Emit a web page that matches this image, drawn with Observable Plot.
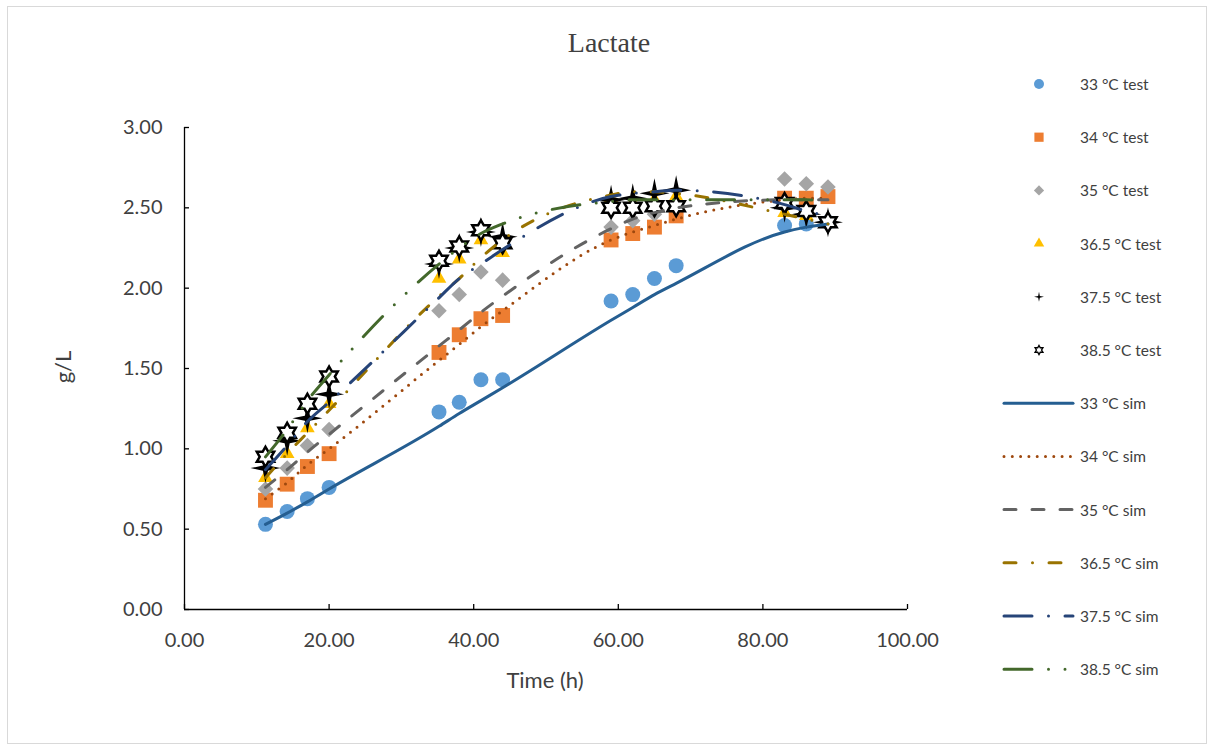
<!DOCTYPE html>
<html>
<head>
<meta charset="utf-8">
<script src="https://cdn.jsdelivr.net/npm/d3@7"></script>
<script src="https://cdn.jsdelivr.net/npm/@observablehq/plot@0.6"></script>
<style>
  html, body { margin: 0; padding: 0; background: #fff; }
  #wrap { position: relative; width: 1214px; height: 751px; overflow: hidden; }
  #wrap > svg { position: absolute; left: 0; top: 0; }
  .border { position: absolute; left: 7px; top: 6px; width: 1200px; height: 738px; border: 1px solid #d9d9d9; box-sizing: border-box; pointer-events: none; }
  .title { position: absolute; left: 0; width: 1218px; top: 27px; text-align: center; font-family: "Liberation Serif", "DejaVu Serif", serif; font-size: 28px; color: #404040; }
  .xlab { position: absolute; left: 445px; width: 200px; top: 666px; text-align: center; font-family: Lato, sans-serif; font-size: 22px; color: #404040; }
  .ylab { position: absolute; left: 62px; top: 367px; transform: translate(-50%, -50%) rotate(-90deg); font-family: Lato, sans-serif; font-size: 22px; color: #404040; white-space: nowrap; }
</style>
</head>
<body>
<div id="wrap"></div>
<script>
// ---- data ----
const times = [11.2, 14.2, 17, 20, 35.2, 38, 41, 44, 59, 62, 65, 68, 83, 86, 89];
const temps = ["33", "34", "35", "36.5", "37.5", "38.5"];

const test33  = [0.53, 0.61, 0.69, 0.76, 1.23, 1.29, 1.43, 1.43, 1.92, 1.96, 2.06, 2.14, 2.39, 2.40, 2.41];
const test34  = [0.68, 0.78, 0.89, 0.97, 1.60, 1.71, 1.81, 1.83, 2.30, 2.34, 2.38, 2.45, 2.56, 2.56, 2.57];
const test35  = [0.75, 0.88, 1.02, 1.12, 1.86, 1.96, 2.10, 2.05, 2.38, 2.42, 2.46, 2.50, 2.68, 2.65, 2.63];
const test365 = [0.82, 0.97, 1.13, 1.28, 2.06, 2.18, 2.30, 2.22, 2.56, 2.53, 2.55, 2.57, 2.47, 2.45, 2.42];
const test375 = [0.88, 1.05, 1.19, 1.34, 2.15, 2.25, 2.35, 2.32, 2.55, 2.56, 2.59, 2.61, 2.50, 2.46, 2.41];
const test385 = [0.95, 1.10, 1.28, 1.45, 2.17, 2.26, 2.36, 2.28, 2.50, 2.50, 2.51, 2.51, 2.53, 2.48, 2.41];

const sim33  = [0.53, 0.60, 0.67, 0.75, 1.14, 1.22, 1.30, 1.38, 1.80, 1.88, 1.96, 2.03, 2.35, 2.38, 2.40];
const sim34  = [0.69, 0.79, 0.90, 1.00, 1.55, 1.65, 1.76, 1.86, 2.30, 2.35, 2.39, 2.43, 2.55, 2.56, 2.56];
const sim35  = [0.76, 0.87, 0.98, 1.09, 1.64, 1.74, 1.85, 1.95, 2.37, 2.43, 2.47, 2.50, 2.55, 2.55, 2.55];
const sim365 = [0.82, 0.97, 1.10, 1.24, 1.95, 2.06, 2.19, 2.30, 2.58, 2.60, 2.60, 2.59, 2.46, 2.43, 2.40];
const sim375 = [0.87, 1.02, 1.17, 1.29, 1.94, 2.06, 2.15, 2.24, 2.57, 2.59, 2.60, 2.61, 2.52, 2.48, 2.45];
const sim385 = [0.95, 1.12, 1.30, 1.46, 2.15, 2.25, 2.34, 2.40, 2.54, 2.55, 2.55, 2.55, 2.55, 2.55, 2.54];

const xTicks = [0, 20, 40, 60, 80, 100];
const yTicks = [0, 0.5, 1, 1.5, 2, 2.5, 3];

// ---- styles ----
const testSeries = [test33, test34, test35, test365, test375, test385];
const simSeries = [sim33, sim34, sim35, sim365, sim375, sim385];

const sparkle = {
  draw(ctx, size) {
    const R = Math.sqrt(size / Math.PI), r = R * 0.24;
    for (let i = 0; i < 8; i++) {
      const a = i * Math.PI / 4 - Math.PI / 2, rad = i % 2 ? r : R;
      const x = rad * Math.cos(a), y = rad * Math.sin(a);
      i ? ctx.lineTo(x, y) : ctx.moveTo(x, y);
    }
    ctx.closePath();
  }
};
const hexagram = {
  draw(ctx, size) {
    const R = Math.sqrt(size / Math.PI), r = R / Math.sqrt(3);
    for (let i = 0; i < 12; i++) {
      const a = i * Math.PI / 6 - Math.PI / 2, rad = i % 2 ? r : R;
      const x = rad * Math.cos(a), y = rad * Math.sin(a);
      i ? ctx.lineTo(x, y) : ctx.moveTo(x, y);
    }
    ctx.closePath();
  }
};

const testStyle = [
  {symbol: "circle", r: 7.5, fill: "#5B9BD5", stroke: "none", lr: 5},
  {symbol: "square", r: 8.4, fill: "#ED7D31", stroke: "none", lr: 5.2},
  {symbol: "diamond2", r: 7, fill: "#A5A5A5", stroke: "none", lr: 4.6},
  {symbol: "triangle2", r: 7, fill: "#FFC000", stroke: "none", lr: 5},
  {symbol: sparkle, r: 15, fill: "#000", stroke: "none", lr: 5},
  {symbol: hexagram, r: 10, fill: "#fff", stroke: "#000", strokeWidth: 2.5, lr: 4.5, lsw: 1.4}
];
const simStyle = [
  {stroke: "#255E91", dash: null},
  {stroke: "#9E480E", dash: "0 8.3"},
  {stroke: "#636363", dash: "12 16"},
  {stroke: "#997300", dash: "12 16.5 0 16.5"},
  {stroke: "#264478", dash: "28 16.5 0 16.5"},
  {stroke: "#43682B", dash: "28 16.5 0 16.5 0 16.5"}
];

const rows = (arr) => times.map((t, j) => ({time: t, value: arr[j]}));

const marks = [
  Plot.ruleY([0], {stroke: "#000", strokeWidth: 1.3}),
  Plot.ruleX([0], {stroke: "#000", strokeWidth: 1.3}),
  Plot.axisX({ticks: xTicks, tickSize: 0, tickPadding: 23, tickFormat: d => d.toFixed(2),
    fontSize: 20, fill: "#404040", fontFamily: "Lato", label: null}),
  Plot.axisY({ticks: yTicks, tickSize: 0, tickPadding: 22, tickFormat: d => d.toFixed(2),
    fontSize: 20, fill: "#404040", fontFamily: "Lato", label: null}),
  Plot.axisX({ticks: xTicks, tickSize: -5, tickFormat: () => "", stroke: "#000", strokeWidth: 1.3, label: null}),
  Plot.axisY({ticks: yTicks, tickSize: -5, tickFormat: () => "", stroke: "#000", strokeWidth: 1.3, label: null})
];
testSeries.forEach((arr, i) => {
  const s = testStyle[i];
  marks.push(Plot.dot(rows(arr), {x: "time", y: "value", symbol: s.symbol, r: s.r,
    fill: s.fill, stroke: s.stroke, strokeWidth: s.strokeWidth || 0}));
});
simSeries.forEach((arr, i) => {
  const s = simStyle[i];
  marks.push(Plot.line(rows(arr), {x: "time", y: "value", stroke: s.stroke, strokeWidth: 3,
    strokeDasharray: s.dash, strokeLinecap: "round", curve: "monotone-x"}));
});

const chart = Plot.plot({
  width: 1214, height: 751,
  marginLeft: 184, marginRight: 307, marginTop: 127, marginBottom: 142,
  x: {domain: [0, 100]},
  y: {domain: [0, 3]},
  style: {background: "transparent", fontFamily: "Lato"},
  marks
});

const wrap = document.getElementById("wrap");
wrap.appendChild(chart);

// ---- legend ----
const leg = d3.select(wrap).append("svg").attr("width", 1214).attr("height", 751);
const legY0 = 84, legStep = 53.2;
const fontAttrs = (t) => t.attr("font-family", "Lato").attr("font-size", 15.5).attr("fill", "#404040").attr("dominant-baseline", "central");
const d3sym = {circle: d3.symbolCircle, square: d3.symbolSquare, diamond2: d3.symbolDiamond2, triangle2: d3.symbolTriangle2};
temps.forEach((t, i) => {
  const s = testStyle[i];
  const y = legY0 + i * legStep;
  const type = typeof s.symbol === "string" ? d3sym[s.symbol] : s.symbol;
  leg.append("path")
    .attr("transform", `translate(1039,${y})`)
    .attr("d", d3.symbol(type, Math.PI * s.lr * s.lr)())
    .attr("fill", s.fill).attr("stroke", s.stroke).attr("stroke-width", s.lsw || 0);
  leg.append("text").attr("x", 1080).attr("y", y).text(`${t} °C test`).call(fontAttrs);
});
temps.forEach((t, i) => {
  const s = simStyle[i];
  const y = legY0 + (i + 6) * legStep;
  leg.append("line").attr("x1", 1004).attr("x2", 1073).attr("y1", y).attr("y2", y)
    .attr("stroke", s.stroke).attr("stroke-width", 3).attr("stroke-linecap", "round")
    .attr("stroke-dasharray", s.dash);
  leg.append("text").attr("x", 1080).attr("y", y).text(`${t} °C sim`).call(fontAttrs);
});

// ---- titles ----
const addDiv = (cls, txt) => { const d = document.createElement("div"); d.className = cls; d.textContent = txt; wrap.appendChild(d); };
addDiv("border", "");
addDiv("title", "Lactate");
addDiv("xlab", "Time (h)");
addDiv("ylab", "g/L");
</script>
</body>
</html>
